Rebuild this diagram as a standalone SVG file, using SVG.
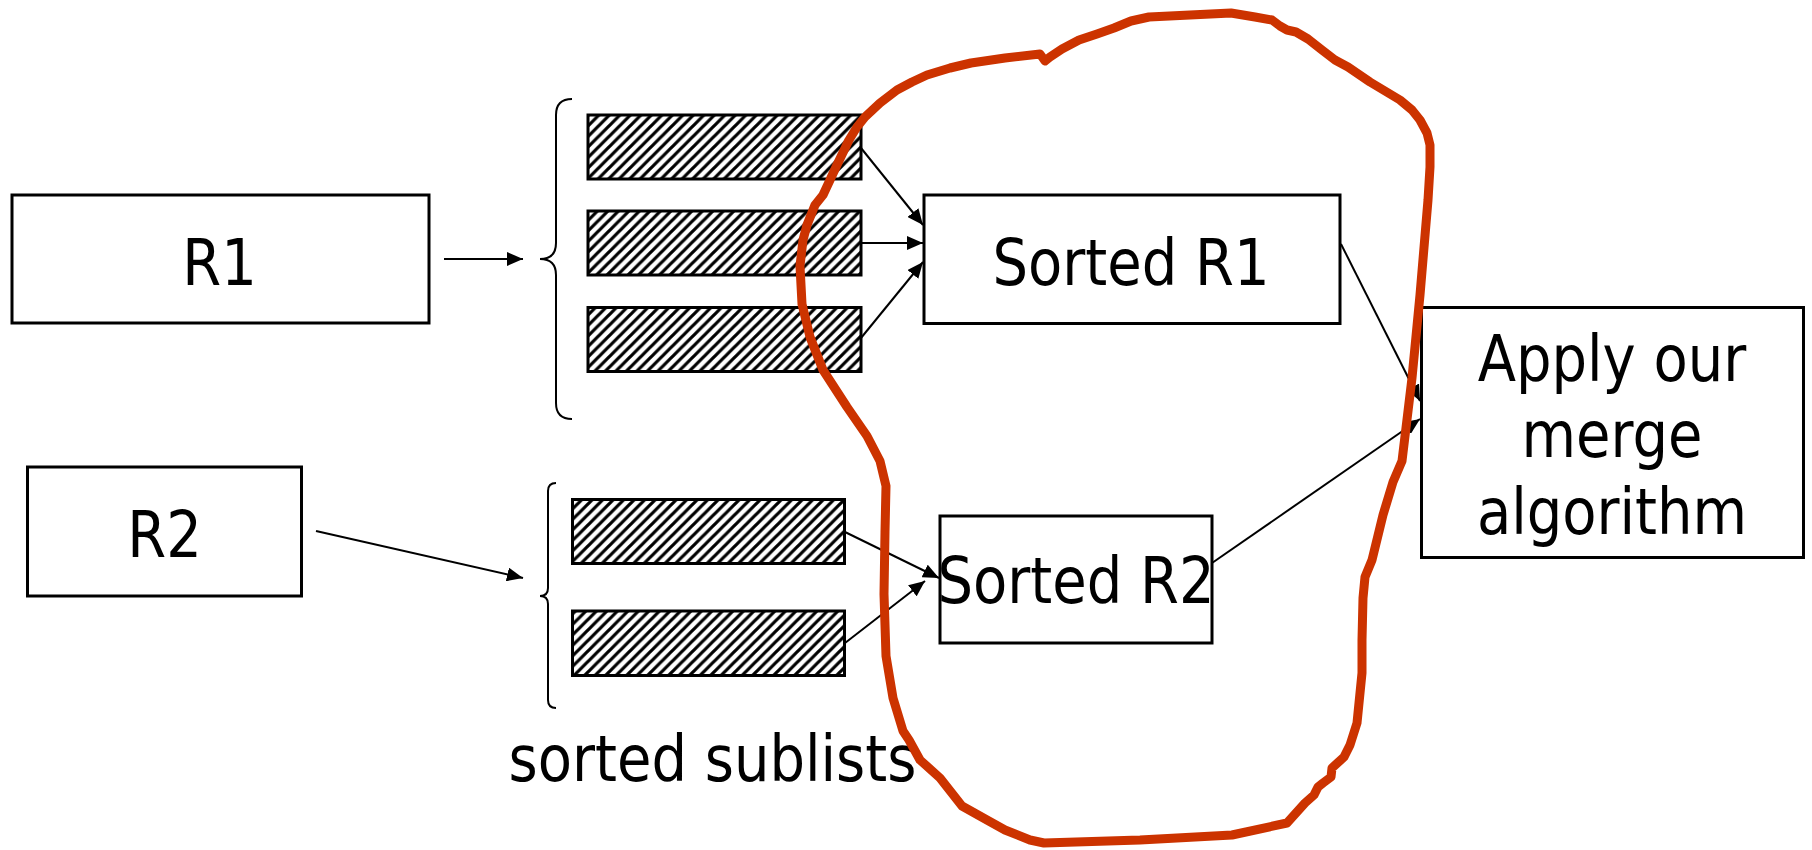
<svg xmlns="http://www.w3.org/2000/svg" width="1812" height="850" viewBox="0 0 1812 850">
<style>
.box{fill:#fff;stroke:#000;stroke-width:3}
.hatch{fill:url(#hatch);stroke:#000;stroke-width:3}
.lbl{font-family:"DejaVu Sans","Liberation Sans",sans-serif;font-size:64px;fill:#000;text-anchor:middle}
.conn{stroke:#000;stroke-width:2;fill:none}
.arr{marker-end:url(#ah)}
.brace{stroke:#000;stroke-width:2;fill:none}
.loop{fill:none;stroke:#CC3300;stroke-width:9;stroke-linejoin:round;stroke-linecap:round}
</style>
<defs>
<pattern id="hatch" patternUnits="userSpaceOnUse" width="10.5" height="10.5">
<rect width="10.5" height="10.5" fill="#fff"/>
<path d="M-2,12.5 L12.5,-2 M-2,2 L2,-2 M8.5,12.5 L12.5,8.5" stroke="#000" stroke-width="3.2"/>
</pattern>
<marker id="ah" markerUnits="userSpaceOnUse" markerWidth="17" markerHeight="14" refX="16" refY="7" orient="auto">
<path d="M0,0 L16,7 L0,14 z" fill="#000"/>
</marker>
</defs>
<rect width="1812" height="850" fill="#fff"/>

<g id="connectors">
<line class="conn arr" x1="444" y1="259" x2="523" y2="259"/>
<line class="conn arr" x1="316" y1="531" x2="523" y2="578"/>
<line class="conn arr" x1="861" y1="148" x2="923" y2="225"/>
<line class="conn arr" x1="861" y1="243" x2="923" y2="243"/>
<line class="conn arr" x1="861" y1="338" x2="923" y2="262"/>
<line class="conn arr" x1="845" y1="532" x2="939" y2="578"/>
<line class="conn arr" x1="845" y1="643" x2="925" y2="581"/>
<line class="conn arr" x1="1341" y1="244" x2="1420" y2="401"/>
<line class="conn arr" x1="1212" y1="563" x2="1420" y2="419"/>
</g>

<g id="node-r1">
<rect class="box" x="12" y="195" width="417" height="128"/>
<text class="lbl" transform="translate(219.5,285) scale(0.875,1)">R1</text>
</g>
<g id="node-r2">
<rect class="box" x="27.5" y="467" width="274" height="129"/>
<text class="lbl" transform="translate(164.5,557) scale(0.875,1)">R2</text>
</g>

<g id="node-sublists-r1">
<path class="brace" d="M572,99 Q556,99 556,115 L556,243 Q556,259 540,259 Q556,259 556,275 L556,403 Q556,419 572,419"/>
<rect class="hatch" x="588" y="115" width="273" height="64"/>
<rect class="hatch" x="588" y="211" width="273" height="64"/>
<rect class="hatch" x="588" y="307.5" width="273" height="64"/>
</g>
<g id="node-sublists-r2">
<path class="brace" d="M556,483 Q548,483 548,491 L548,588 Q548,596 540,596 Q548,596 548,604 L548,700 Q548,708 556,708"/>
<rect class="hatch" x="572.5" y="499.5" width="272" height="64"/>
<rect class="hatch" x="572.5" y="611" width="272" height="64.5"/>
<text class="lbl" transform="translate(712.5,781) scale(0.875,1)">sorted sublists</text>
</g>

<g id="node-sorted-r1">
<rect class="box" x="924" y="195" width="416" height="128.5"/>
<text class="lbl" transform="translate(1131,284.5) scale(0.875,1)">Sorted R1</text>
</g>
<g id="node-sorted-r2">
<rect class="box" x="940" y="516" width="272" height="127"/>
<text class="lbl" transform="translate(1076,603) scale(0.875,1)">Sorted R2</text>
</g>
<g id="node-merge">
<rect class="box" x="1421.5" y="307.5" width="382" height="250"/>
<text class="lbl" transform="translate(1612,381) scale(0.875,1)">Apply our</text>
<text class="lbl" transform="translate(1612,457) scale(0.875,1)">merge</text>
<text class="lbl" transform="translate(1612,533.5) scale(0.875,1)">algorithm</text>
</g>

<g id="highlight-loop">
<path class="loop" d="M1040,54 L1045,61 L1050,57 L1062,49 L1079,40 L1097,34 L1114,28 L1131,21 L1149,17 L1190,15 L1231,13 L1255,17 L1272,20 L1280,26 L1287,30 L1296,32 L1308,39 L1322,50 L1335,60 L1348,67 L1370,82 L1400,100 L1412,110 L1420,120 L1427,133 L1430,145 L1430,167 L1428,200 L1420,295 L1412,378 L1402,461 L1393,482 L1383,515 L1372,560 L1365,577 L1363,598 L1362,640 L1362,673 L1357,723 L1350,745 L1344,757 L1332,768 L1331,777 L1323,783 L1318,787 L1314,795 L1305,803 L1287,823 L1232,835 L1140,840 L1044,843 L1030,840 L1005,830 L987,820 L962,806 L940,778 L920,760 L909,740 L903,731 L893,698 L886,656 L884,594 L885,532 L886,486 L880,461 L867,436 L847,407 L823,370 L810,337 L802,304 L800,266 L803,240 L807,225 L815,205 L823,195 L830,180 L836,167 L849,140 L857,127 L865,117 L880,103 L897,90 L912,82 L927,75 L950,68 L971,63 L1005,58 Z"/>
</g>
</svg>
